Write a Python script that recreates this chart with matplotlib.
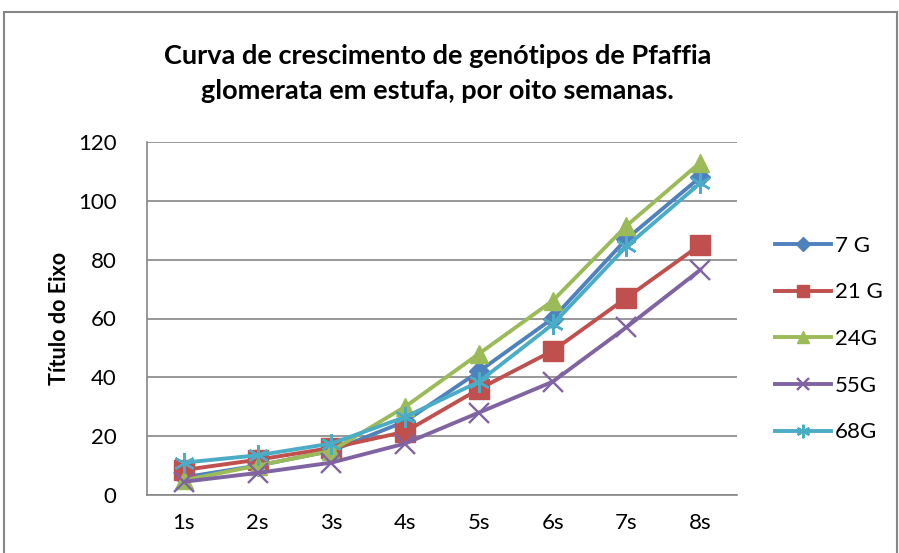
import numpy as np
import matplotlib.pyplot as plt
from matplotlib.patches import Rectangle

plt.rcParams['font.family'] = ['Lato', 'DejaVu Sans']

# dados
semanas = ['1s', '2s', '3s', '4s', '5s', '6s', '7s', '8s']
g7 = [6, 10, 15, 25, 42, 60, 87, 108]
g21 = [8.5, 12, 16, 21.5, 36, 49, 67, 85]
g24 = [5, 10, 15, 30, 48, 66, 91.5, 113]
g55 = [4.5, 7.5, 11, 17.5, 28, 38.5, 57, 76.5]
g68 = [11, 13.5, 17.5, 26.5, 38.5, 58, 84.5, 106]
nomes = ['7 G', '21 G', '24G', '55G', '68G']

cores = ['#4F81BD', '#C0504D', '#9BBB59', '#8064A2', '#4BACC6']
marcadores = ['D', 's', '^', 'x', (6, 2, 0)]
tamanhos = [10.5, 14, 13.5, 14, 15]

fig = plt.figure(figsize=(8.99, 5.53), dpi=100)
ax = fig.add_axes([147 / 899, 58 / 553, 590 / 899, 353 / 553])

# borda externa do grafico
fig.patches.append(Rectangle((4 / 899, -0.05), 893 / 899, 1 - 12 / 553 + 0.05,
                             transform=fig.transFigure, fill=False,
                             edgecolor='#868686', linewidth=1.5))

x = np.arange(len(semanas))
series = [g7, g21, g24, g55, g68]
for s, nome, c, m, ms in zip(series, nomes, cores, marcadores, tamanhos):
    if m in ('D', 's', '^'):
        ax.plot(x, s, color=c, linewidth=2.8, marker=m, markersize=ms,
                markeredgecolor=c, label=nome)
    else:
        ax.plot(x, s, color=c, linewidth=2.8, marker=m, markersize=ms,
                markeredgewidth=1.7, label=nome)

ax.set_xlim(-0.5, len(semanas) - 0.5)
ax.set_ylim(0, 120)
ax.set_yticks(range(0, 121, 20))
ax.set_xticks(x)
ax.set_xticklabels(semanas)
ax.yaxis.grid(True, color='#868686', linewidth=1.2)
ax.set_axisbelow(True)
for lado in ['top', 'right']:
    ax.spines[lado].set_visible(False)
for lado in ['left', 'bottom']:
    ax.spines[lado].set_color('#868686')
    ax.spines[lado].set_linewidth(1.2)
ax.tick_params(length=0, labelsize=16)
ax.tick_params(axis='x', pad=13)
ax.tick_params(axis='y', pad=22)

ax.set_ylabel('Título do Eixo', fontsize=15.5, fontweight='bold')
ax.yaxis.set_label_coords((70 - 147) / 590, 0.5)

fig.text(0.487, 0.867, 'Curva de crescimento de genótipos de Pfaffia\nglomerata em estufa, por oito semanas.',
         ha='center', va='center', fontsize=19.5, fontweight='bold', linespacing=1.58)

ax.legend(loc='center left', bbox_to_anchor=((775 - 147) / 590, 0.442), frameon=False,
          fontsize=16, labelspacing=1.2, handlelength=2.5, handletextpad=0.2,
          borderpad=0, borderaxespad=0, markerscale=0.65)

fig.savefig('out.png', dpi=100)
